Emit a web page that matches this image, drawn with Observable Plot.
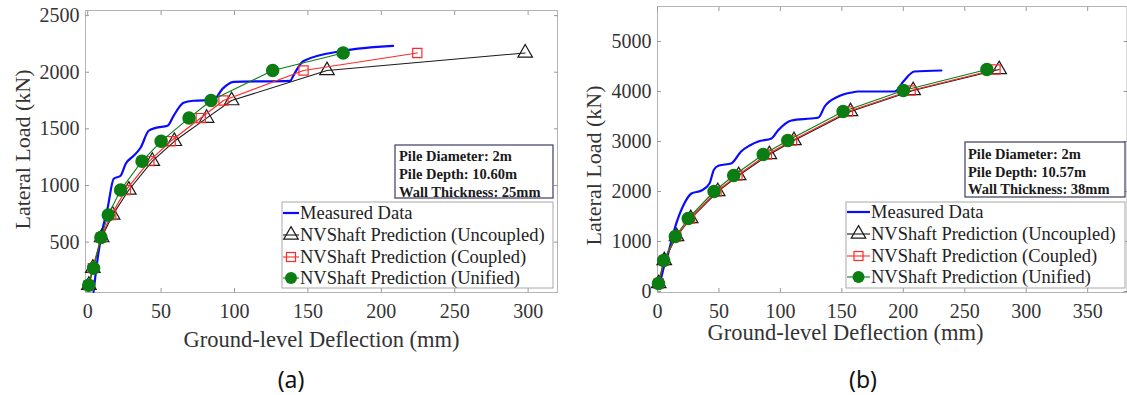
<!DOCTYPE html>
<html><head><meta charset="utf-8">
<script src="https://cdn.jsdelivr.net/npm/d3@7"></script>
<script src="https://cdn.jsdelivr.net/npm/@observablehq/plot@0.6"></script>
<style>
body{margin:0;background:#fff;}
#fig{position:relative;width:1127px;height:395px;overflow:hidden;background:#fff;}
.panel{position:absolute;top:0;overflow:hidden;}
.panel svg, .panel svg text{font-family:'Liberation Serif','Times New Roman',serif !important;}
#overlay{position:absolute;left:0;top:0;}
</style></head><body><div id="fig"></div>
<script>
// ---------- Panel (a) data ----------
const aMeasX = [4, 6.5, 9.5, 13.6, 17.7, 22.4, 25.9, 31.3, 36, 41.5, 46.3, 54.4, 58.5, 65.3, 72, 85.7, 91.8, 99.3, 138, 140, 147, 174, 208];
const aMeasY = [60, 330, 574, 803, 1059, 1086, 1192, 1262, 1333, 1483, 1509, 1527, 1615, 1730, 1748, 1756, 1853, 1915, 1924, 1968, 2100, 2189, 2233];
const aLoads = [120, 270, 540, 740, 960, 1215, 1390, 1595, 1750, 2015, 2170];
const aUncoupledX = [0.8, 3.5, 9.5, 17, 28, 44, 59, 81, 98, 163, 298];
const aCoupledX   = [0.8, 3.5, 9, 16, 26, 42, 56.5, 77, 92.5, 147, 224.5];
const aUnifiedX   = [0.7, 4, 9, 14, 22.4, 37, 50, 69, 84, 126, 174];
const aXTicks = [0, 50, 100, 150, 200, 250, 300];
const aYTicks = [500, 1000, 1500, 2000, 2500];
const aInfo = ["Pile Diameter: 2m", "Pile Depth: 10.60m", "Wall Thickness: 25mm"];

// ---------- Panel (b) data ----------
const bMeasX = [1.5, 3.3, 8.7, 14, 21, 27.6, 35.8, 42.3, 46, 50, 60, 68, 75, 82, 92.7, 98, 109, 125, 131, 136, 147, 158, 163, 193, 200, 209, 231];
const bMeasY = [50, 300, 760, 1260, 1720, 1960, 2020, 2160, 2440, 2520, 2560, 2800, 2920, 3000, 3060, 3220, 3420, 3460, 3480, 3700, 3900, 3980, 4000, 4000, 4200, 4400, 4420];
const bLoads = [160, 620, 1100, 1460, 2000, 2320, 2740, 3020, 3600, 4020, 4440];
const bUncoupledX = [1, 5.5, 15.5, 27, 49, 66, 91, 111, 157, 208, 278];
const bCoupledX   = [1, 5.3, 15.2, 26.5, 48, 65, 89, 109.5, 155, 206, 275];
const bUnifiedX   = [0.8, 5, 14.5, 25, 46, 62, 86, 106, 151, 200, 268];
const bXTicks = [0, 50, 100, 150, 200, 250, 300, 350];
const bYTicks = [0, 1000, 2000, 3000, 4000, 5000];
const bInfo = ["Pile Diameter: 2m", "Pile Depth: 10.57m", "Wall Thickness: 38mm"];

const seriesNames = ["Measured Data", "NVShaft Prediction (Uncoupled)", "NVShaft Prediction (Coupled)", "NVShaft Prediction (Unified)"];
const xLabel = "Ground-level Deflection (mm)";
const yLabel = "Lateral Load (kN)";
const captions = ["(a)", "(b)"];

const BLUE = "#0a0aff", BLACK = "#1a1a1a", RED = "#ff2a2a", GREEN = "#0b7d12";
const SERIF = "Liberation Serif";
const fmt = d3.format("d");

function panel(o) {
  const meas = o.measX.map((x, i) => ({x, y: o.measY[i]}));
  const unc = o.uncX.map((x, i) => ({x, y: o.loads[i]}));
  const cou = o.couX.map((x, i) => ({x, y: o.loads[i]}));
  const uni = o.uniX.map((x, i) => ({x, y: o.loads[i]}));
  return Plot.plot({
    width: o.width, height: o.height,
    marginLeft: o.ml, marginRight: o.mr, marginTop: o.mt, marginBottom: o.mb,
    x: {domain: o.xDomain, label: null},
    y: {domain: o.yDomain, label: null},
    style: {fontFamily: SERIF, fontSize: "20px", color: "#333", background: "transparent"},
    marks: [
      Plot.frame({stroke: "#b4b4b4"}),
      Plot.axisX({ticks: o.xTicks, tickFormat: fmt, tickSize: 0, tickPadding: 11, label: null, fontSize: 20, fontFamily: SERIF}),
      Plot.axisY({ticks: o.yTicks, tickFormat: fmt, tickSize: 0, tickPadding: 6, label: null, fontSize: 20, fontFamily: SERIF}),
      Plot.axisX({ticks: o.xTicks, tickSize: -4, text: null, label: null, stroke: "#999"}),
      Plot.axisX({anchor: "top", ticks: o.xTicks, tickSize: -4, text: null, label: null, stroke: "#999"}),
      Plot.axisY({ticks: o.yTicks, tickSize: -4, text: null, label: null, stroke: "#999"}),
      Plot.axisY({anchor: "right", ticks: o.yTicks, tickSize: -4, text: null, label: null, stroke: "#999"}),
      Plot.text([yLabel], {frameAnchor: "left", dx: o.yLabDx, dy: o.yLabDy, rotate: -90, fontSize: 22, fontFamily: SERIF, fill: "#333", textAnchor: "middle", lineAnchor: "middle"}),
      Plot.text([xLabel], {frameAnchor: o.xLabAnchor, dx: o.xLabDx, dy: o.xLabDy, fontSize: 22.5, fontFamily: SERIF, fill: "#333", textAnchor: "middle", lineAnchor: "middle"}),
      Plot.line(meas, {x: "x", y: "y", stroke: BLUE, strokeWidth: 2.2, curve: "monotone-x"}),
      Plot.line(unc, {x: "x", y: "y", stroke: BLACK, strokeWidth: 1.1}),
      Plot.dot(unc, {x: "x", y: "y", symbol: "triangle", r: 5.4, stroke: BLACK, fill: "none", strokeWidth: 1.2}),
      Plot.line(cou, {x: "x", y: "y", stroke: RED, strokeWidth: 1.2}),
      Plot.dot(cou, {x: "x", y: "y", symbol: "square", r: 5.2, stroke: RED, fill: "none", strokeWidth: 1.2}),
      Plot.line(uni, {x: "x", y: "y", stroke: GREEN, strokeWidth: 1.1}),
      Plot.dot(uni, {x: "x", y: "y", r: 6, fill: GREEN, stroke: GREEN})
    ]
  });
}

const fig = document.getElementById("fig");

const divA = document.createElement("div");
divA.className = "panel"; divA.style.left = "0px"; divA.style.width = "565px"; divA.style.height = "360px";
divA.appendChild(panel({
  measX: aMeasX, measY: aMeasY, loads: aLoads, uncX: aUncoupledX, couX: aCoupledX, uniX: aUnifiedX,
  xDomain: [-1.5, 320], yDomain: [55, 2545], xTicks: aXTicks, yTicks: aYTicks,
  width: 565, height: 360, ml: 85, mr: 8, mt: 10, mb: 68,
  yLabDx: -63, yLabDy: -2, xLabAnchor: "bottom", xLabDx: 0, xLabDy: 47
}));
fig.appendChild(divA);

const divB = document.createElement("div");
divB.className = "panel"; divB.style.left = "570px"; divB.style.width = "557px"; divB.style.height = "360px";
divB.appendChild(panel({
  measX: bMeasX, measY: bMeasY, loads: bLoads, uncX: bUncoupledX, couX: bCoupledX, uniX: bUnifiedX,
  xDomain: [0, 382], yDomain: [-20, 5700], xTicks: bXTicks, yTicks: bYTicks,
  width: 557, height: 360, ml: 87, mr: 0.5, mt: 6, mb: 68,
  yLabDx: -64, yLabDy: 16, xLabAnchor: "bottom-left", xLabDx: 188, xLabDy: 40
}));
fig.appendChild(divB);

// ---------- Overlay: legends, info boxes, captions ----------
const svg = d3.select(fig).append("svg").attr("id", "overlay").attr("width", 1127).attr("height", 395);

function drawLegend(x0, y0, w, h, lineX1, lineX2, textX, rows) {
  svg.append("rect").attr("x", x0).attr("y", y0).attr("width", w).attr("height", h)
    .attr("fill", "#fff").attr("stroke", "#a8a8a8").attr("stroke-width", 1);
  const cx = (lineX1 + lineX2) / 2;
  const colors = [BLUE, BLACK, RED, GREEN];
  rows.forEach((cy, i) => {
    svg.append("line").attr("x1", lineX1).attr("x2", lineX2).attr("y1", cy).attr("y2", cy)
      .attr("stroke", colors[i]).attr("stroke-width", i === 0 ? 2.2 : 1.1);
    if (i === 1) svg.append("path").attr("d", d3.symbol(d3.symbolTriangle, 5.4 * 5.4 * Math.PI)()).attr("transform", `translate(${cx},${cy})`).attr("fill", "none").attr("stroke", BLACK).attr("stroke-width", 1.2);
    if (i === 2) svg.append("rect").attr("x", cx - 4.5).attr("y", cy - 4.5).attr("width", 9).attr("height", 9).attr("fill", "none").attr("stroke", RED).attr("stroke-width", 1.2);
    if (i === 3) svg.append("circle").attr("cx", cx).attr("cy", cy).attr("r", 6).attr("fill", GREEN);
    svg.append("text").attr("x", textX).attr("y", cy).attr("dominant-baseline", "central")
      .attr("font-family", SERIF).attr("font-size", 18.5).attr("fill", "#222").text(seriesNames[i]);
  });
}

function drawInfo(x0, y0, w, h, textX, rows, lines) {
  svg.append("rect").attr("x", x0).attr("y", y0).attr("width", w).attr("height", h)
    .attr("fill", "#fff").attr("stroke", "#4a4a6e").attr("stroke-width", 1.3);
  rows.forEach((cy, i) => {
    svg.append("text").attr("x", textX).attr("y", cy).attr("dominant-baseline", "central")
      .attr("font-family", SERIF).attr("font-weight", "bold").attr("font-size", 14.5).attr("fill", "#1a1a1a").text(lines[i]);
  });
}

drawLegend(282, 202, 271, 86, 283, 299, 300, [213, 235, 257, 278]);
drawInfo(395, 145, 158, 53, 399, [156, 174, 192], aInfo);
drawLegend(846, 202, 279, 86, 847, 870, 871, [212, 234, 256, 277]);
drawInfo(965, 142, 160, 55, 968, [154, 172, 189], bInfo);

svg.append("text").attr("x", 291).attr("y", 379).attr("text-anchor", "middle").attr("dominant-baseline", "central")
  .attr("font-family", "'Noto Sans', sans-serif").attr("font-size", 23).attr("fill", "#111").text(captions[0]);
svg.append("text").attr("x", 863).attr("y", 379).attr("text-anchor", "middle").attr("dominant-baseline", "central")
  .attr("font-family", "'Noto Sans', sans-serif").attr("font-size", 23).attr("fill", "#111").text(captions[1]);
</script></body></html>
